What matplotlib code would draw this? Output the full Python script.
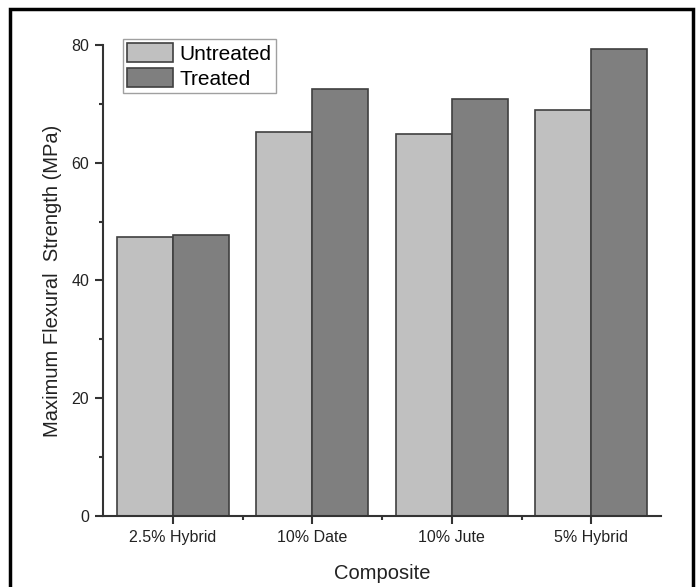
import matplotlib
matplotlib.use("Agg")
import matplotlib.pyplot as plt
from matplotlib.patches import Rectangle
import numpy as np

categories = ["2.5% Hybrid", "10% Date", "10% Jute", "5% Hybrid"]
untreated = [47.3, 65.3, 64.9, 69.0]
treated = [47.7, 72.5, 70.8, 79.4]
yticks = [0, 20, 40, 60, 80]

plt.rcParams['font.family'] = ['Liberation Sans', 'DejaVu Sans']

fig = plt.figure(figsize=(6.99, 5.87), dpi=100)
ax = fig.add_axes([103/699, 1-515.8/587, (661-103)/699, (515.8-45)/587])

x = np.arange(1, len(categories)+1)
w = 0.4
ax.bar(x - w/2, untreated, w, color='#c0c0c0', edgecolor='#404040', linewidth=1.2, label='Untreated')
ax.bar(x + w/2, treated, w, color='#7f7f7f', edgecolor='#404040', linewidth=1.2, label='Treated')

ax.set_xlim(0.5, 4.5)
ax.set_ylim(0, 80)
ax.set_xticks(x)
ax.set_xticklabels(categories, fontsize=11.5, color='#222222')
ax.set_xticks([1.5, 2.5, 3.5], minor=True)
ax.set_yticks(yticks)
ax.set_yticklabels([str(v) for v in yticks], fontsize=11.5, color='#222222')
ax.set_yticks([10, 30, 50, 70], minor=True)
ax.tick_params(axis='both', which='major', direction='out', length=6, width=1.5, color='#333333', pad=4)
ax.tick_params(axis='both', which='minor', direction='out', length=3, width=1.5, color='#333333')

for s in ['top', 'right']:
    ax.spines[s].set_visible(False)
for s in ['left', 'bottom']:
    ax.spines[s].set_linewidth(1.5)
    ax.spines[s].set_color('#333333')

ax.set_xlabel('Composite', fontsize=14.5, color='#222222', labelpad=14)
ax.set_ylabel('Maximum Flexural  Strength (MPa)', fontsize=14.5, color='#222222', labelpad=7)

leg = ax.legend(loc='upper left', bbox_to_anchor=(0.036, 1.013), fontsize=15, frameon=True,
                fancybox=False, edgecolor='#888888', handlelength=2.2, handleheight=1.05,
                handletextpad=0.3, borderpad=0.2, labelspacing=0.2, borderaxespad=0)
leg.get_frame().set_linewidth(1.0)

fig.patches.append(Rectangle((10/699, -0.05), (693-10)/699, 1.05 - 9/587, transform=fig.transFigure,
                             fill=False, edgecolor='black', linewidth=2.5))

fig.savefig('out.png', dpi=100, facecolor='white')
